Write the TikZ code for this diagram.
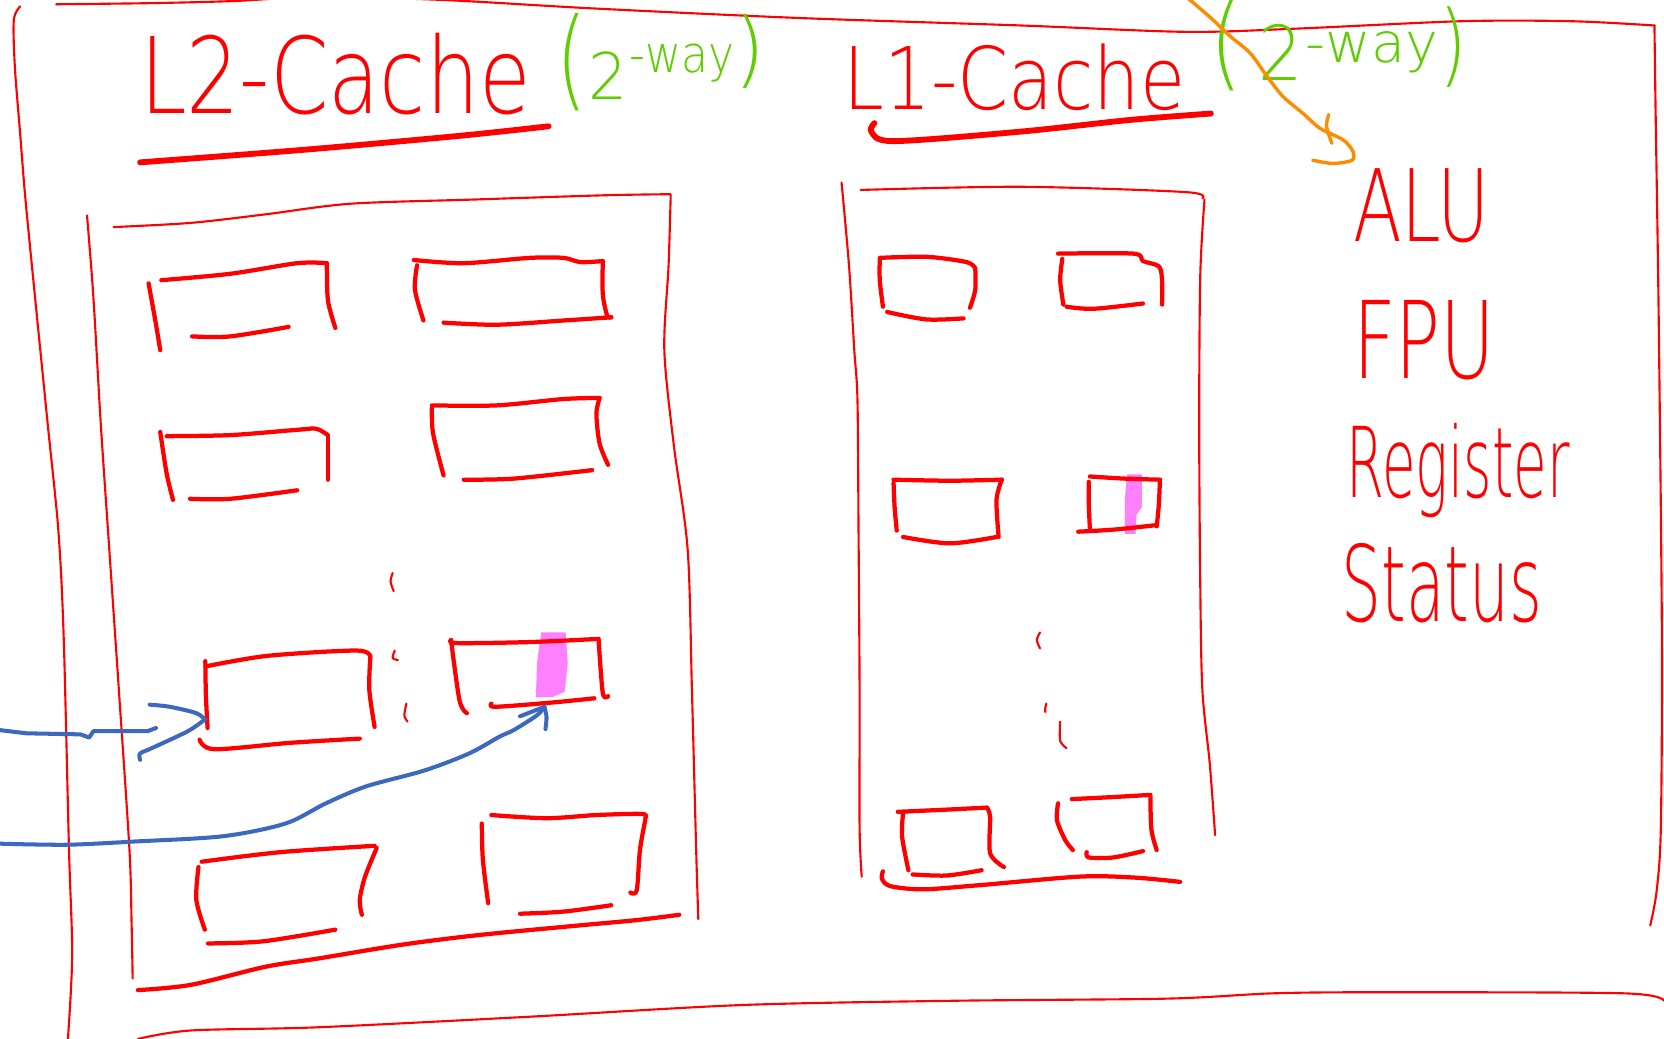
\documentclass[tikz,border=0pt]{standalone}
\usepackage{fontspec}
\IfFontExistsTF{DejaVuSans-ExtraLight.ttf}{\newfontfamily\handfont{DejaVuSans-ExtraLight.ttf}}{%
  \IfFontExistsTF{Lato Light}{\newfontfamily\handfont{Lato Light}}{%
    \IfFontExistsTF{Fira Sans Light}{\newfontfamily\handfont{Fira Sans Light}}{%
      \newfontfamily\handfont{Liberation Sans}}}}
\definecolor{sred}{RGB}{255,0,0}
\definecolor{sgreen}{RGB}{95,205,0}
\definecolor{sorange}{RGB}{255,140,0}
\definecolor{sblue}{RGB}{60,105,190}
\definecolor{spink}{RGB}{255,128,255}
\tikzset{
  frameln/.style={draw=sred, line width=2pt, line cap=round, line join=round},
  boxln/.style={draw=sred, line width=4pt, line cap=round, line join=round},
  ulln/.style={draw=sred, line width=5.5pt, line cap=round, line join=round},
  bluln/.style={draw=sblue, line width=3.8pt, line cap=round, line join=round},
  orgln/.style={draw=sorange, line width=3.2pt, line cap=round, line join=round},
  hand/.style={inner sep=0pt, outer sep=0pt, anchor=center},
  pinkmark/.style={fill=spink, draw=none}
}
\newcommand{\hw}[3]{\resizebox*{#1pt}{#2pt}{\handfont #3}}
\begin{document}
\begin{tikzpicture}[x=1pt,y=-1pt]
\useasboundingbox (0,0) rectangle (1568,979);
\clip (0,0) rectangle (1568,979);
\fill[white] (0,0) rectangle (1568,979);

% ---------- outer frame ----------
\draw[frameln] plot[smooth] coordinates {(53,4) (140,3) (220,1) (300,-3) (418,0) (560,8) (754,17) (962,24) (1117,30) (1221,27) (1377,20) (1481,20) (1559,24)};
\draw[frameln] plot[smooth] coordinates {(1559,24) (1560,100) (1563,300) (1566,600) (1565,780) (1561,840) (1555,872)};
\draw[frameln] plot[smooth] coordinates {(130,979) (180,971) (300,968) (500,958) (700,947) (900,943) (1100,941) (1200,936) (1300,935) (1530,936) (1568,943)};
\draw[frameln] plot[smooth] coordinates {(19,6) (13,19) (14,63) (19,126) (24,188) (35,300) (45,400) (55,500) (60,600) (65,800) (68,900) (64,979)};

% ---------- titles ----------
\node[hand, text=sred] (l2title) at (316,69.5) {\hw{368}{77}{L2-Cache}};
\node[hand, text=sgreen] (l2pa) at (538.5,59) {\hw{29}{92}{(}};
\node[hand, text=sgreen] (l2two) at (573,71.5) {\hw{37}{45}{2}};
\node[hand, text=sgreen] (l2way) at (642.5,59) {\hw{99}{36}{-way}};
\node[hand, text=sgreen] (l2pb) at (706.5,48) {\hw{29}{70}{)}};
\draw[ulln] plot[smooth] coordinates {(132,153) (288,141) (433,128) (517,119)};

\node[hand, text=sred] (l1title) at (956,72.5) {\hw{322}{63}{L1-Cache}};
\node[hand, text=sgreen] (l1pa) at (1156,43) {\hw{30}{86}{(}};
\node[hand, text=sgreen] (l1two) at (1207,49.5) {\hw{42}{53}{2}};
\node[hand, text=sgreen] (l1way) at (1293,49.5) {\hw{125}{39}{-way}};
\node[hand, text=sgreen] (l1pb) at (1369,44) {\hw{26}{76}{)}};
\draw[ulln] plot[smooth] coordinates {(824,116) (821,124) (842,133) (962,124) (1065,113) (1141,107)};

% orange stroke
\draw[orgln] plot[smooth] coordinates {(1119,-2) (1140,16) (1159,34) (1178,50) (1194,72) (1209,91) (1228,107) (1244,121) (1266,132) (1275,143) (1274,151) (1256,154) (1237,151)};
\draw[orgln] plot[smooth] coordinates {(1252,108) (1250,119) (1255,135)};

% ---------- right labels ----------
\node[hand, text=sred] (alu) at (1339.5,194) {\hw{129}{70}{ALU}};
\node[hand, text=sred] (fpu) at (1342,320.5) {\hw{134}{75}{FPU}};
\node[hand, text=sred] (reg) at (1374,443.5) {\hw{210}{89}{Register}};
\node[hand, text=sred] (stat) at (1358.5,549.5) {\hw{189}{75}{Status}};

% ---------- L2 cache block ----------
\draw[frameln] plot[smooth] coordinates {(107,214) (180,210) (250,202) (330,192) (447,188) (570,184) (632,183)};
\draw[frameln] plot[smooth] coordinates {(632,184) (630,250) (626,330) (635,420) (648,518) (652,650) (656,801) (658,866)};
\draw[frameln] plot[smooth] coordinates {(82,203) (88,280) (95,400) (103,518) (112,650) (122,801) (124,870) (125,922)};
\draw[boxln] plot[smooth] coordinates {(130,933) (180,928) (250,911) (301,903) (380,890) (452,881) (546,872) (600,867) (640,862)};

% row 1
\draw[boxln] plot[smooth] coordinates {(140,267) (146,300) (151,330)};
\draw[boxln] plot[smooth] coordinates {(152,264) (217,258) (280,248) (308,248)};
\draw[boxln] plot[smooth] coordinates {(308,248) (309,283) (316,309)};
\draw[boxln] plot[smooth] coordinates {(181,317) (217,317) (272,308)};
\draw[boxln] plot[smooth] coordinates {(393,250) (391,273) (399,302)};
\draw[boxln] plot[smooth] coordinates {(390,245) (437,248) (499,243) (531,243) (547,247) (568,246)};
\draw[boxln] plot[smooth] coordinates {(568,246) (568,277) (572,297) (576,299)};
\draw[boxln] plot[smooth] coordinates {(418,304) (468,306) (531,302) (576,299)};
% row 2
\draw[boxln] plot[smooth] coordinates {(157,411) (217,410) (280,405) (298,404) (309,410)};
\draw[boxln] plot[smooth] coordinates {(151,407) (157,446) (163,471)};
\draw[boxln] plot[smooth] coordinates {(309,411) (309,430) (309,452)};
\draw[boxln] plot[smooth] coordinates {(179,470) (217,470) (280,462)};
\draw[boxln] plot[smooth] coordinates {(407,382) (468,382) (531,376) (565,375)};
\draw[boxln] plot[smooth] coordinates {(407,383) (408,408) (418,448)};
\draw[boxln] plot[smooth] coordinates {(565,375) (562,390) (565,418) (573,438)};
\draw[boxln] plot[smooth] coordinates {(437,452) (484,451) (558,443)};
% dots
\draw[frameln] plot[smooth] coordinates {(370,540) (368,548) (371,557)};
\draw[frameln] plot[smooth] coordinates {(372,613) (370,620) (375,622)};
\draw[frameln] plot[smooth] coordinates {(383,663) (381,674) (384,680)};
% row 3
\coordinate (eleft) at (193,678);
\coordinate (fbot) at (513,666);
\draw[boxln] plot[smooth] coordinates {(193.5,628) (252,618) (336,613) (349,619)};
\draw[boxln] plot[smooth] coordinates {(193.5,623) (194,655) (195.6,686)};
\draw[boxln] plot[smooth] coordinates {(349,619) (348,650) (353,685)};
\draw[boxln] plot[smooth] coordinates {(188,697) (202,706) (273,700) (339,696)};
\fill[pinkmark] (510,596) -- (533,596) -- (535,625) -- (532,652) -- (520,657) -- (505,657) -- (506,625) -- cycle;
\draw[boxln] plot[smooth] coordinates {(425,603) (431,606) (500,605) (564,602)};
\draw[boxln] plot[smooth] coordinates {(425,603) (433,660) (440,672)};
\draw[boxln] plot[smooth] coordinates {(564,602) (568,653) (573,656)};
\draw[boxln] plot[smooth] coordinates {(463,663) (467,666) (520,662) (560,658)};
% row 4
\draw[boxln] plot[smooth] coordinates {(190,812) (264,803) (353,797)};
\draw[boxln] plot[smooth] coordinates {(187,817) (185,848) (193,876)};
\draw[boxln] plot[smooth] coordinates {(355,799) (344,826) (339,848) (341,862)};
\draw[boxln] plot[smooth] coordinates {(196,889) (248,887) (316,876)};
\draw[boxln] plot[smooth] coordinates {(463,768) (515,771) (562,768) (605,767) (608,771)};
\draw[boxln] plot[smooth] coordinates {(454,776) (455,810) (460,851)};
\draw[boxln] plot[smooth] coordinates {(608,773) (603,801) (600,839) (594,841)};
\draw[boxln] plot[smooth] coordinates {(490,861) (531,859) (576,853)};

% ---------- L1 cache block ----------
\draw[frameln] plot[smooth] coordinates {(793,172) (800,250) (805,330) (808,377) (809,500) (810,650) (810,780) (812,826)};
\draw[frameln] plot[smooth] coordinates {(811,179) (962,176) (1117,181) (1133,187)};
\draw[frameln] plot[smooth] coordinates {(1135,188) (1131,260) (1130,400) (1131,550) (1133,650) (1140,720) (1145,787)};
\draw[boxln] plot[smooth] coordinates {(832,821) (831,828) (839,835) (870,838) (924,834) (1018,826) (1070,827) (1112,831)};

% row 1
\draw[boxln] plot[smooth] coordinates {(829,243) (873,242) (911,247) (919,253)};
\draw[boxln] plot[smooth] coordinates {(829,244) (829,264) (832,289)};
\draw[boxln] plot[smooth] coordinates {(919,253) (919,273) (914,290)};
\draw[boxln] plot[smooth] coordinates {(836,294) (873,301) (908,300)};
\draw[boxln] plot[smooth] coordinates {(997,239) (1068,239) (1077,246) (1092,251) (1095,264) (1095,287)};
\draw[boxln] plot[smooth] coordinates {(1001,244) (999,264) (1002,287)};
\draw[boxln] plot[smooth] coordinates {(1005,289) (1030,291) (1077,286)};
% row 2
\draw[boxln] plot[smooth] coordinates {(842,452) (895,453) (944,452)};
\draw[boxln] plot[smooth] coordinates {(842,455) (843,478) (845,500)};
\draw[boxln] plot[smooth] coordinates {(944,452) (939,471) (941,506)};
\draw[boxln] plot[smooth] coordinates {(851,506) (895,512) (939,506)};
\fill[pinkmark] (1062,447) -- (1076,447) -- (1076,478) -- (1071,485) -- (1070,503) -- (1060,503) -- (1060,470) -- cycle;
\draw[boxln] plot[smooth] coordinates {(1027,449) (1060,451) (1093,452)};
\draw[boxln] plot[smooth] coordinates {(1026,454) (1026,476) (1027,498)};
\draw[boxln] plot[smooth] coordinates {(1093,452) (1092,475) (1090,496)};
\draw[boxln] plot[smooth] coordinates {(1016,501) (1050,499) (1088,495)};
% dots
\draw[frameln] plot[smooth] coordinates {(980,596) (977,603) (980,611)};
\draw[frameln] plot[smooth] coordinates {(986,663) (985,667) (985,671)};
\draw[frameln] plot[smooth] coordinates {(999,680) (999,698) (1005,705)};
% row 3
\draw[boxln] plot[smooth] coordinates {(846,765) (890,763) (930,761)};
\draw[boxln] plot[smooth] coordinates {(851,766) (850,788) (856,820)};
\draw[boxln] plot[smooth] coordinates {(930,761) (933,770) (933,804) (946,817)};
\draw[boxln] plot[smooth] coordinates {(860,824) (892,825) (925,820)};
\draw[boxln] plot[smooth] coordinates {(1010,753) (1050,751) (1084,749)};
\draw[boxln] plot[smooth] coordinates {(997,757) (996,773) (1004,792) (1011,801)};
\draw[boxln] plot[smooth] coordinates {(1084,750) (1085,782) (1090,801)};
\draw[boxln] plot[smooth] coordinates {(1024,803) (1026,808) (1049,808) (1077,802)};

% ---------- blue arrows ----------
\coordinate (ina) at (0,688);
\coordinate (inb) at (0,795);
\coordinate (aend) at (147,686);
\draw[bluln] (ina) -- (25,691) -- (76,692) -- (84,695) -- (88,689) -- (139,689) -- (aend);
\draw[bluln] plot[smooth] coordinates {(141,664) (160,666) (185,672) (eleft)};
\draw[bluln] plot[smooth] coordinates {(eleft) (177,689) (143,705) (132,710) (132,716)};
\draw[bluln] plot[smooth] coordinates {(inb) (63,796) (126,793) (210,788) (269,776) (307,757) (345,741) (400,726) (442,710) (471,694) (484,688) (506,674) (fbot)};
\draw[bluln] (fbot) -- (490,675);
\draw[bluln] plot[smooth] coordinates {(fbot) (515,676) (514,687)};
\end{tikzpicture}
\end{document}
